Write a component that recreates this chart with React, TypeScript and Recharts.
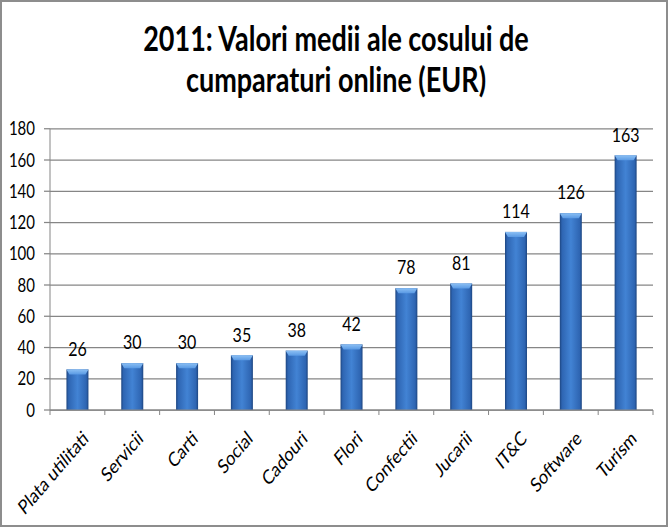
import React from "react";
import {
  BarChart,
  Bar,
  XAxis,
  YAxis,
  CartesianGrid,
  LabelList,
} from "recharts";

// values
const categories = [
  "Plata utilitati",
  "Servicii",
  "Carti",
  "Social",
  "Cadouri",
  "Flori",
  "Confectii",
  "Jucarii",
  "IT&C",
  "Software",
  "Turism",
];
const values = [26, 30, 30, 35, 38, 42, 78, 81, 114, 126, 163];
const yTicks = [0, 20, 40, 60, 80, 100, 120, 140, 160, 180];
const titleLines = ["2011: Valori medii ale cosului de", "cumparaturi online (EUR)"];

const data = categories.map((name, i) => ({ name, value: values[i] }));

// the reference looks like an Excel chart stretched vertically, so the chart
// is drawn in a shorter box and scaled in y
const STRETCH = 1.25;
const W = 672;
const H = 422;
const MARGIN = { top: 103, right: 19, bottom: 0, left: 0 };
const Y_AXIS_W = 50;
const X_AXIS_H = 94;
const BAND = (W - MARGIN.right - MARGIN.left - Y_AXIS_W) / categories.length;

const FONT = "Lato, 'Open Sans', sans-serif";
const AXIS = "#868686";

function GlossyBar(props: any) {
  const { x, y, width, height, index } = props;
  if (!height || height <= 0) return null;
  const id = `barfill-${index}`;
  const capId = `barcap-${index}`;
  const cap = Math.min(4, height);
  const inset = 3;
  return (
    <g>
      <defs>
        <linearGradient id={id} x1="0" y1="0" x2="1" y2="0">
          <stop offset="0%" stopColor="#1d4580" />
          <stop offset="10%" stopColor="#2e65b2" />
          <stop offset="50%" stopColor="#4283d4" />
          <stop offset="90%" stopColor="#2e65b2" />
          <stop offset="100%" stopColor="#1d4580" />
        </linearGradient>
        <linearGradient id={capId} x1="0" y1="0" x2="0" y2="1">
          <stop offset="0%" stopColor="#8cc0f4" />
          <stop offset="100%" stopColor="#5a9ae4" />
        </linearGradient>
      </defs>
      <rect x={x} y={y} width={width} height={height} fill={`url(#${id})`} />
      <polygon
        points={`${x},${y} ${x + width},${y} ${x + width - inset},${y + cap} ${x + inset},${y + cap}`}
        fill={`url(#${capId})`}
      />
    </g>
  );
}

function CategoryTick(props: any) {
  const { x, y, payload, index } = props;
  const left = x - BAND / 2;
  const right = x + BAND / 2;
  const ax = x + 12;
  const ay = y + 24;
  return (
    <g>
      <line x1={left} y1={y} x2={left} y2={y + 4} stroke={AXIS} />
      {index === categories.length - 1 && (
        <line x1={right} y1={y} x2={right} y2={y + 4} stroke={AXIS} />
      )}
      <text
        x={ax}
        y={ay}
        textAnchor="end"
        transform={`rotate(-43, ${ax}, ${ay})`}
        fontSize={16}
        fontFamily={FONT}
        fill="#000"
      >
        {payload.value}
      </text>
    </g>
  );
}

export default function App() {
  return (
    <div style={{ position: "relative", width: 672, height: 528, background: "#fff" }}>
      <style>{"body{margin:0}"}</style>
      <div
        style={{
          position: "absolute",
          left: 0,
          top: 0,
          width: W,
          height: H,
          transform: `scaleY(${STRETCH})`,
          transformOrigin: "0 0",
        }}
      >
        <BarChart
          width={W}
          height={H}
          data={data}
          margin={MARGIN}
          barCategoryGap="30%"
        >
          <CartesianGrid vertical={false} stroke={AXIS} />
          <XAxis
            dataKey="name"
            interval={0}
            height={X_AXIS_H}
            axisLine={{ stroke: AXIS }}
            tickLine={false}
            tickSize={0}
            tickMargin={0}
            tick={(p: any) => <CategoryTick {...p} />}
          />
          <YAxis
            width={Y_AXIS_W}
            domain={[0, 180]}
            ticks={yTicks}
            interval={0}
            axisLine={{ stroke: AXIS }}
            tickLine={{ stroke: AXIS }}
            tickSize={6}
            tickMargin={9}
            tick={{ fontSize: 15, fill: "#000", fontFamily: FONT }}
          />
          <Bar dataKey="value" shape={<GlossyBar />} isAnimationActive={false}>
            <LabelList
              dataKey="value"
              position="top"
              offset={11}
              fill="#000"
              fontSize={16}
              fontFamily={FONT}
            />
          </Bar>
        </BarChart>
        <svg
          width={W}
          height={90}
          style={{ position: "absolute", left: 0, top: 0 }}
        >
          {titleLines.map((line, i) => (
            <text
              key={line}
              x={336}
              y={40.8 + i * 32.8}
              textAnchor="middle"
              fontSize={27}
              fontWeight="bold"
              fontFamily={FONT}
              fill="#000"
            >
              {line}
            </text>
          ))}
        </svg>
      </div>
      <div
        style={{
          position: "absolute",
          left: 0,
          top: 0,
          width: 668,
          height: 527,
          border: "2px solid #8d8d8d",
          boxSizing: "border-box",
          pointerEvents: "none",
        }}
      />
    </div>
  );
}
